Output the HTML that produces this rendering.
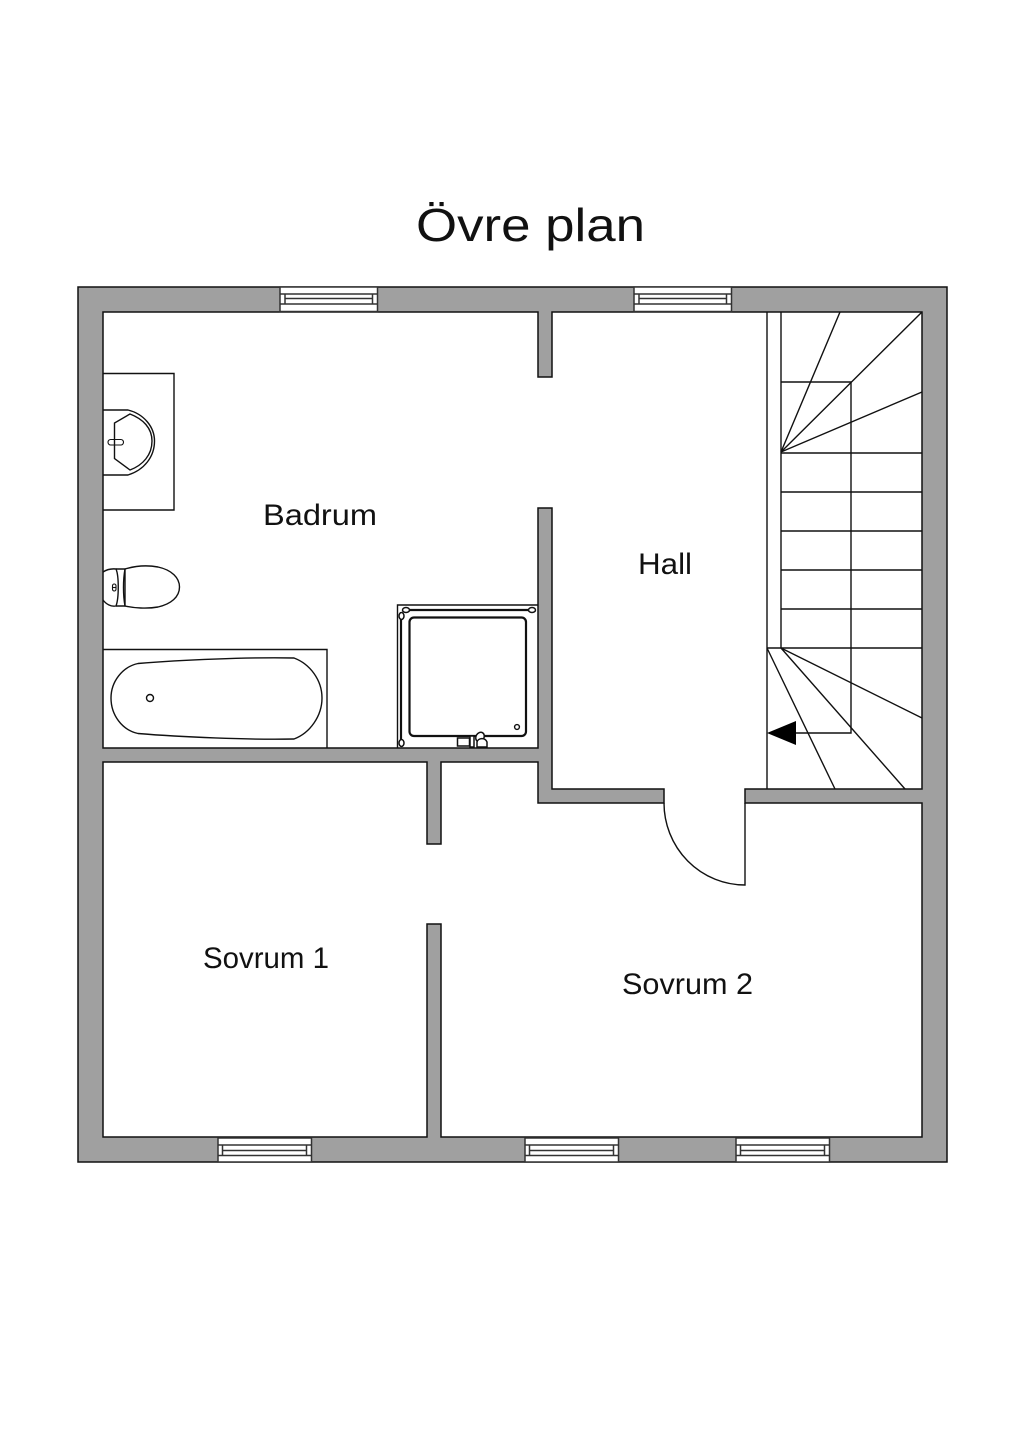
<!DOCTYPE html>
<html><head><meta charset="utf-8"><style>
html,body{margin:0;padding:0;background:#fff}
svg{display:block}
text{font-family:"Liberation Sans",sans-serif;fill:#111}
</style></head><body>
<svg width="1024" height="1448" viewBox="0 0 1024 1448" xmlns="http://www.w3.org/2000/svg">
<rect width="1024" height="1448" fill="#fff"/>
<path fill="#a0a0a0" stroke="#111" stroke-width="1.500" fill-rule="evenodd" d="M78 287H947V1162H78Z M103 312H538V377H552V312H922V789H745V803H922V1137H441V924H427V1137H103V762H427V844H441V762H538V803H664V789H552V508H538V748H103Z"/>
<g fill="#fff" stroke="#333" stroke-width="1.500">
<g><rect x="280" y="287" width="97.500" height="24.500"/><path d="M280 294H377.500M280 304H377.500M285 298.500H372.500M285 294V304M372.500 294V304" fill="none"/></g>
<g transform="translate(354,0)"><rect x="280" y="287" width="97.500" height="24.500"/><path d="M280 294H377.500M280 304H377.500M285 298.500H372.500M285 294V304M372.500 294V304" fill="none"/></g>
<g><rect x="218" y="1138" width="93.500" height="24"/><path d="M218 1145H311.500M218 1155.500H311.500M222.500 1150.500H306.500M222.500 1145V1155.500M306.500 1145V1155.500" fill="none"/></g>
<g transform="translate(307,0)"><rect x="218" y="1138" width="93.500" height="24"/><path d="M218 1145H311.500M218 1155.500H311.500M222.500 1150.500H306.500M222.500 1145V1155.500M306.500 1145V1155.500" fill="none"/></g>
<g transform="translate(518,0)"><rect x="218" y="1138" width="93.500" height="24"/><path d="M218 1145H311.500M218 1155.500H311.500M222.500 1150.500H306.500M222.500 1145V1155.500M306.500 1145V1155.500" fill="none"/></g>
</g>
<g fill="none" stroke="#111" stroke-width="1.400">
<!-- sink -->
<path d="M103 373.500H174V510H103"/>
<path d="M103 410H128C144 414 154.500 427 154.500 441C154.500 457 144 470 128 475H103"/>
<path d="M114.500 423V458.500L130 470C143 465 152 455 152 441C152 428 143 419 130 414Z"/>
<rect x="108" y="439.500" width="15.500" height="5.500" rx="2.700" stroke-width="1.100"/>
<!-- toilet -->
<path d="M103 572C106 570 111 568.500 116 569C119 576 119 598 116 606C111 607 106 604 103 600"/>
<path d="M116 569H125V606H116"/>
<path d="M125 569C135 566 147 565 158 567C172 570 179.500 578 179.500 587C179.500 597 171 604 158 607C147 609 134 608 125 606C123 595 123 580 125 569"/>
<rect x="112.500" y="584" width="3.500" height="7" rx="1.700" stroke-width="1.100"/><path d="M112.500 587.500H116" stroke-width="1.100"/>
<!-- bath -->
<path d="M103 649.500H327V748"/>
<path d="M138 663.500C180 660 250 657 294 658C310 664 322 680 322 698C322 716 310 733 294 739C250 740 180 737 138 733.500C122 730 111 715 111 698C111 682 122 667 138 663.500Z"/>
<circle cx="150" cy="698" r="3.500"/>
<!-- shower -->
<path d="M397.500 748V605H538"/>
<path d="M401 612V745M405 610H532" stroke-width="2.200"/>
<rect x="409.500" y="617.500" width="116.500" height="118.500" rx="4.500" stroke-width="2.200"/>
<circle cx="517" cy="727" r="2.400" stroke-width="1.400"/>
<g fill="#fff" stroke-width="1.500">
<ellipse cx="406" cy="610" rx="3.500" ry="2.500"/><ellipse cx="532" cy="610" rx="3.500" ry="2.500"/>
<ellipse cx="401.500" cy="616" rx="2.500" ry="3.500"/><ellipse cx="401.500" cy="743" rx="2.500" ry="3.500"/>
<rect x="457.500" y="738" width="12" height="8"/><rect x="470" y="736" width="4" height="11"/>
<ellipse cx="480" cy="737" rx="4" ry="5" transform="rotate(30 480 737)"/><path d="M477 747V742C478 738 485 737 487 742V747Z"/>
</g>
<!-- stairs -->
<path d="M767 312V789M781 312V648M781 453H922M781 492H922M781 531H922M781 570H922M781 609H922M767 648H922"/>
<path d="M781 382H851V733H796"/>
<path d="M781 452L840 312M781 452L922 312M781 452L922 392M781 648L922 718M781 648L905 789M767 648L835 789"/>
<!-- door -->
<path d="M745 803V885A81 82 0 0 1 664 803"/>
</g>
<path d="M767 733L796 721V745Z" fill="#000"/>
<text x="416" y="241" font-size="46" textLength="229" lengthAdjust="spacingAndGlyphs">Övre plan</text>
<text x="263" y="525" font-size="30" textLength="114" lengthAdjust="spacingAndGlyphs">Badrum</text>
<text x="638" y="574" font-size="30" textLength="54" lengthAdjust="spacingAndGlyphs">Hall</text>
<text x="203" y="968" font-size="30" textLength="126" lengthAdjust="spacingAndGlyphs">Sovrum 1</text>
<text x="622" y="994" font-size="30" textLength="131" lengthAdjust="spacingAndGlyphs">Sovrum 2</text>
</svg>
</body></html>
